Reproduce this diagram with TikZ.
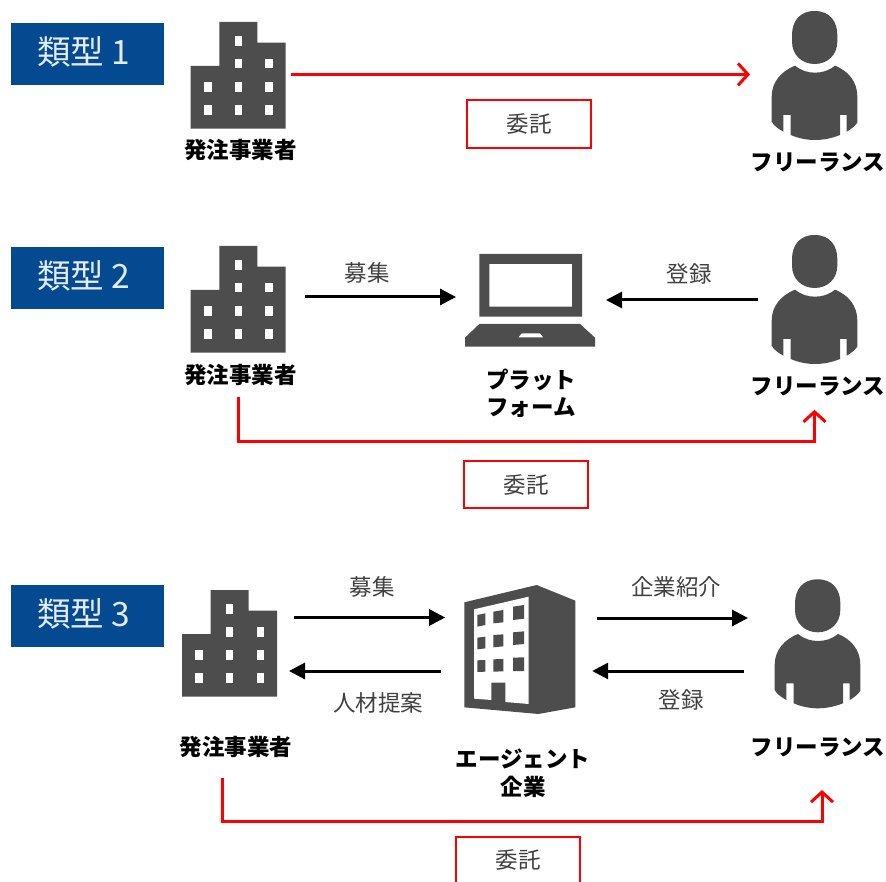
\documentclass[tikz,border=0pt]{standalone}
\usepackage{fontspec}
\setmainfont{Noto Sans CJK JP}
\usetikzlibrary{arrows.meta}
\definecolor{hdrblue}{HTML}{044A91}
\definecolor{hdrtext}{HTML}{E4EBF3}
\definecolor{icongray}{HTML}{4D4D4D}
\definecolor{txtgray}{HTML}{404040}
\definecolor{redline}{HTML}{FF0000}
\tikzset{
  hdr/.style={fill=hdrblue,draw=none,minimum width=153pt,minimum height=62pt,inner sep=0pt,outer sep=0pt},
  hdrtxt/.style={text=hdrtext,font=\fontsize{33.5}{33.5}\selectfont,inner sep=0pt},
  lbl/.style={text=txtgray,font=\fontsize{22.5}{22.5}\selectfont,inner sep=0pt},
  blbl/.style={text=black,font=\fontsize{22.5}{22.5}\selectfont\bfseries,inner sep=0pt},
  keybox/.style={draw=redline,line width=2pt,fill=white,inner sep=0pt,outer sep=0pt,text=txtgray,font=\fontsize{22.5}{22.5}\selectfont},
  iconbox/.style={inner sep=0pt,outer sep=0pt,draw=none},
  redarrow/.style={draw=redline,line width=3pt,-{Straight Barb[length=10pt,width=22pt,line width=3pt]}},
  blackarrow/.style={draw=black,line width=3pt,-{Triangle[length=16pt,width=16pt]}},
  building/.pic={
    \begin{scope}[x=1pt,y=-1pt]
      \fill[icongray] (0,44) -- (28.6,44) -- (28.6,0) -- (66.6,0) -- (66.6,20.7) -- (95,20.7) -- (95,106.7) -- (0,106.7) -- cycle;
      \foreach \c/\r in {47.6/19,47.6/41.7,78.3/41.7,17/65,47.6/65,78.3/65,17/88,47.6/88,78.3/88}
        \fill[white] (\c-3.8,\r-4.8) rectangle (\c+3.8,\r+4.8);
    \end{scope}
  },
  person/.pic={
    \begin{scope}[x=0.33333pt,y=-0.33333pt]
      \fill[icongray] (224,33) .. controls (270,33) and (292,65) .. (292,105) -- (292,125) .. controls (292,165) and (262,192) .. (224,192) .. controls (186,192) and (156,165) .. (156,125) -- (156,105) .. controls (156,65) and (178,33) .. (224,33) -- cycle;
      \fill[icongray] (165,197) .. controls (185,213) and (205,218) .. (225,218) .. controls (245,218) and (265,213) .. (285,197)
        .. controls (325,213) and (352,245) .. (352,290) -- (352,368) .. controls (345,378) and (333,388) .. (320,395)
        -- (320,345) -- (300,345) -- (300,405) .. controls (275,415) and (250,420) .. (225,420) .. controls (200,420) and (175,415) .. (152,405)
        -- (152,345) -- (130,345) -- (130,395) .. controls (117,388) and (102,378) .. (95,365) -- (95,290)
        .. controls (95,245) and (125,213) .. (165,197) -- cycle;
    \end{scope}
  },
  laptop/.pic={
    \begin{scope}[x=0.33333pt,y=-0.33333pt]
      \fill[icongray,even odd rule] (118,42) rectangle (426,230) (148,72) rectangle (396,200);
      \fill[icongray,even odd rule] (118,252) -- (420,252) -- (465,293) -- (465,320) -- (75,320) -- (75,293) -- cycle
        (245,280) -- (300,280) -- (310,292) -- (235,292) -- cycle;
    \end{scope}
  },
  office/.pic={
    \begin{scope}[x=0.33333pt,y=-0.33333pt]
      \fill[icongray] (73,97) -- (290,45) -- (406,92) -- (406,412) -- (295,432) -- (73,412) -- cycle;
      \fill[white] (102,118) -- (266,80) -- (266,402) -- (196,396) -- (196,338) -- (154,338) -- (154,390) -- (102,386) -- cycle;
      \foreach \a/\b/\t/\u/\v/\w in {
        112/136/135/130/170/165, 160/190/125/120/160/157, 219/252/110/105/150/146,
        112/136/203/200/238/235, 160/190/195/193/232/229, 219/252/187/184/225/222,
        112/136/271/270/306/305, 160/190/268/267/305/304, 219/252/263/262/303/303}
        \fill[icongray] (\a,\t) -- (\b,\u) -- (\b,\w) -- (\a,\v) -- cycle;
    \end{scope}
  }
}
\begin{document}
\begin{tikzpicture}[x=1pt,y=-1pt]
\useasboundingbox (0,0) rectangle (886,882);
% Type 1
\node[hdr] (h1) at (87.5,54) {};
\node[hdrtxt] (h1t) at (84,52) {類型 1};
\pic at (190.7,22) {building};
\node[iconbox,minimum width=95pt,minimum height=106.7pt] (b1) at (238.2,75.4) {};
\node[blbl] (b1t) at (240.5,150) {発注事業者};
\pic at (740,0) {person};
\node[iconbox,minimum width=85.6pt,minimum height=128.3pt] (p1) at (814.5,75) {};
\node[blbl] (p1t) at (818,162) {フリーランス};
\node[keybox,minimum width=124pt,minimum height=48pt] (k1) at (529,124) {委託};
\draw[redarrow] ([xshift=5.3pt,yshift=1pt]b1.east) -- ([xshift=-21.7pt,yshift=.6pt]p1.west);
% Type 2
\node[hdr] (h2) at (87.5,278) {};
\node[hdrtxt] (h2t) at (84,276) {類型 2};
\pic at (190.7,246) {building};
\node[iconbox,minimum width=95pt,minimum height=106.7pt] (b2) at (238.2,299.4) {};
\node[blbl] (b2t) at (240.5,375) {発注事業者};
\pic at (440,240) {laptop};
\node[iconbox,minimum width=130pt,minimum height=92.7pt] (l2) at (530,300.3) {};
\node[blbl] (l2a) at (531,380) {プラット};
\node[blbl] (l2b) at (531,408) {フォーム};
\pic at (740,224) {person};
\node[iconbox,minimum width=85.6pt,minimum height=128.3pt] (p2) at (814.5,299) {};
\node[blbl] (p2t) at (818,386) {フリーランス};
\node[lbl] (m2) at (367,273) {募集};
\node[lbl] (r2) at (689,274) {登録};
\draw[blackarrow] ([xshift=19.3pt,yshift=2.4pt]b2.east) -- ([xshift=-9pt,yshift=3.3pt]l2.west);
\draw[blackarrow] ([xshift=-13.7pt,yshift=-1pt]p2.west) -- ([xshift=11pt,yshift=.3pt]l2.east);
\node[keybox,minimum width=124pt,minimum height=47pt] (k2) at (526,484.5) {委託};
\draw[redarrow] ([yshift=-44.3pt]b2.south) |- ([yshift=20pt]k2.north) -| ([yshift=-46.7pt]p2.south);
% Type 3
\node[hdr] (h3) at (87.5,616) {};
\node[hdrtxt] (h3t) at (84,614) {類型 3};
\pic at (182,590) {building};
\node[iconbox,minimum width=96pt,minimum height=107pt] (b3) at (230,643.5) {};
\node[blbl] (b3t) at (236,747) {発注事業者};
\pic at (440,570) {office};
\node[iconbox,minimum width=111pt,minimum height=129pt] (o3) at (520,649.5) {};
\node[blbl] (o3a) at (523,759) {エージェント};
\node[blbl] (o3b) at (523,787) {企業};
\pic at (743,568.3) {person};
\node[iconbox,minimum width=85.6pt,minimum height=128.3pt] (p3) at (817.5,643.5) {};
\node[blbl] (p3t) at (818,747) {フリーランス};
\node[lbl] (m3) at (372,587) {募集};
\node[lbl] (s3) at (676,587) {企業紹介};
\node[lbl] (j3) at (378,703) {人材提案};
\node[lbl] (r3) at (681,700) {登録};
\draw[blackarrow] ([xshift=16pt,yshift=26pt]b3.east) -- ([xshift=-19.3pt,yshift=32pt]o3.west);
\draw[blackarrow] ([xshift=21.7pt,yshift=31.5pt]o3.east) -- ([xshift=-26.7pt,yshift=25.5pt]p3.west);
\draw[blackarrow] ([xshift=-23.3pt,yshift=-21.5pt]o3.west) -- ([xshift=11pt,yshift=-27.5pt]b3.east);
\draw[blackarrow] ([xshift=-30.7pt,yshift=-27.5pt]p3.west) -- ([xshift=16.7pt,yshift=-21.5pt]o3.east);
\node[keybox,minimum width=124.5pt,minimum height=60pt] (k3) at (518,867) {};
\node[lbl] (k3t) at (518,860) {委託};
\draw[redarrow] ([xshift=-8pt,yshift=-81pt]b3.south) |- ([yshift=16pt]k3.north) -| ([xshift=4.5pt,yshift=-82.4pt]p3.south);
\end{tikzpicture}
\end{document}
